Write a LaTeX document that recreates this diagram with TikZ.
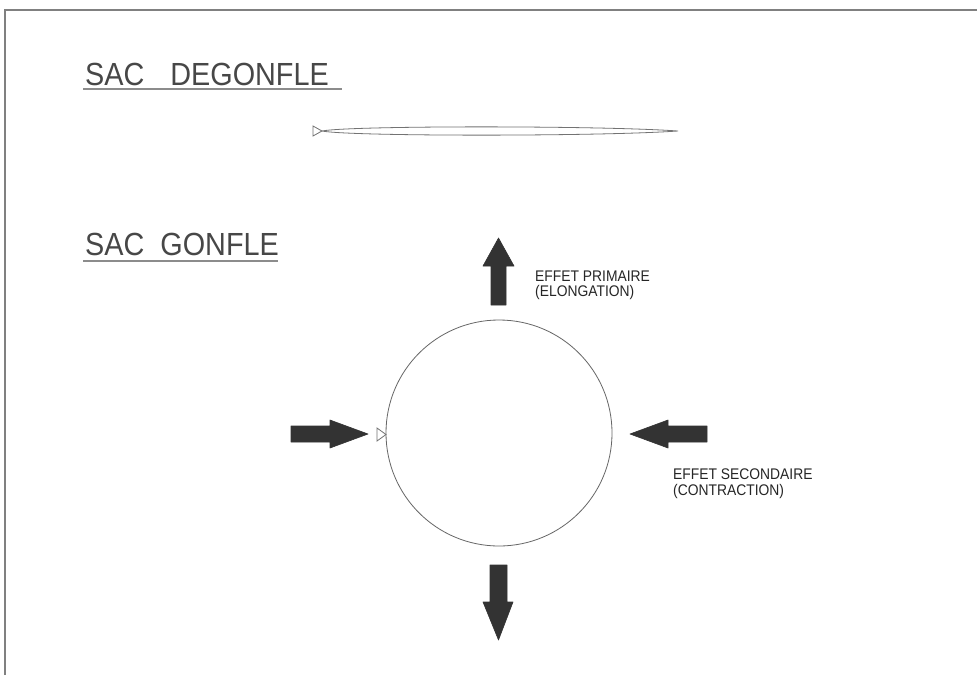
\documentclass[tikz,border=0pt]{standalone}
\usepackage{fontspec}
\newfontfamily\cadfont[FakeStretch=0.9]{Liberation Sans}
\begin{document}
\begin{tikzpicture}[x=1pt,y=-1pt,
  frameline/.style={draw=black!50,line width=1.6pt},
  title/.style={font=\cadfont\fontsize{32}{32}\selectfont,text=black!72,inner sep=0pt,anchor=base west},
  label/.style={font=\cadfont\fontsize{15.4}{16}\selectfont,text=black!85,inner sep=0pt,anchor=base west},
  uline/.style={draw=black!45,line width=1.8pt},
  bagline/.style={draw=black!55,line width=0.8pt},
  blockarrow/.style={fill=black!80,draw=black!80,line width=0.6pt,line join=round}]
\useasboundingbox (0,0) rectangle (977,675);
\fill[white] (0,0) rectangle (977,675);
% frame
\draw[frameline] (5,675) -- (5,10) -- (977,10);

% titles
\node[title] (t1) at (85,85) {SAC\hspace*{26pt}DEGONFLE};
\draw[uline] (83,89) -- (342,89);
\node[title] (t2) at (85,255) {SAC\hspace*{16pt}GONFLE};
\draw[uline] (83,261) -- (278,261);

% deflated bag
\draw[bagline] (322,131) .. controls (350,125.5) and (600,125.5) .. (678,131)
  .. controls (600,136.5) and (350,136.5) .. (322,131) -- cycle;
\draw[bagline] (313,126) -- (313,136) -- (322,131) -- cycle;

% inflated bag
\node[circle,draw=black!60,line width=0.8pt,minimum size=226pt,inner sep=0pt] (bag) at (499,433) {};
\draw[bagline] (377,428) -- (377,441) -- (386,434.5) -- cycle;

% arrows
\filldraw[blockarrow] (491,305) -- (506,305) -- (506,266) -- (514,266) -- (498.5,238) -- (483,266) -- (491,266) -- cycle;
\filldraw[blockarrow] (490,565) -- (507,565) -- (507,602) -- (513,602) -- (498.5,640) -- (483,602) -- (490,602) -- cycle;
\filldraw[blockarrow] (291,426) -- (330,426) -- (330,420) -- (368,434) -- (330,448) -- (330,442) -- (291,442) -- cycle;
\filldraw[blockarrow] (707,426) -- (668,426) -- (668,420) -- (630,434) -- (668,448) -- (668,442) -- (707,442) -- cycle;

% labels
\node[label] (p1) at (535,281) {EFFET PRIMAIRE};
\node[label] (p2) at (535,296) {(ELONGATION)};
\node[label] (s1) at (673,479) {EFFET SECONDAIRE};
\node[label] (s2) at (673,495) {(CONTRACTION)};
\end{tikzpicture}
\end{document}
